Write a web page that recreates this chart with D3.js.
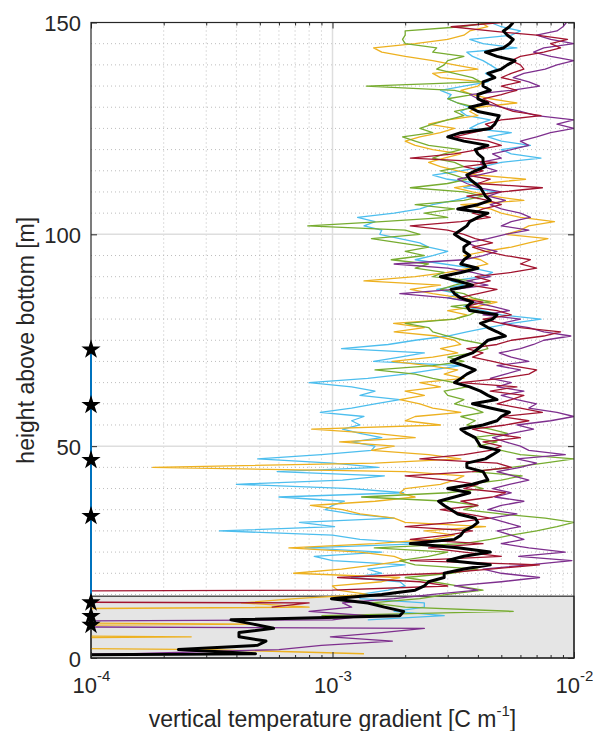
<!DOCTYPE html>
<meta charset="utf-8">
<style>
body { margin: 0; background: #fff; }
text { font-family: "Liberation Sans", Arial, Helvetica, sans-serif; fill: #262626; }
.grid-major line { stroke: #dedede; stroke-width: 1.5px; }
.grid-minor line { stroke: #bdbdbd; stroke-width: 1px; stroke-dasharray: 1,3; }
.profile { fill: none; stroke-width: 1.3px; stroke-linejoin: round; }
.mean { fill: none; stroke: #000; stroke-width: 3px; stroke-linejoin: round; }
.axis path { display: none; }
.axis line { stroke: #262626; }
</style>
<svg width="593" height="731"></svg>
<script src="https://cdn.jsdelivr.net/npm/d3@7"></script>
<script>

// heights above bottom [m], one value per metre
var heights = d3.range(0, 151);

// vertical temperature gradient, in units of 1e-3 C/m (null = no data)
var blueGrad = [null, null, null, null, null, null, null, null, null,
  1.4, 2.9, 1.8, 2.4, 2.4, 1.3,
  1.3, 1.7, 2.0, 1.9, 1.2, 1.6, 1.4, 2.0, 1.0, 0.84,
  1.6, 0.77, 2.4, 1.3, 1.0, 0.34, 1.02, 0.73, 1.8, 1.2, 0.93, 1.0, 1.12, 0.6, 1.97, 1.2, 0.4, 1.1, 1.64, 0.59, 1.55, 1.0, 0.49, 0.9, 1.45,
  1.5, 1.2, 1.6, 1.3, 1.1, 1.3, 1.2, 1.35, 0.89, 1.2, 1.5, 1.9, 1.3, 1.5, 1.2, 0.8, 1.4, 2.0, 2.6, 3.4, 1.48, 1.9, 2.4, 1.09, 1.7, 2.2,
  3.0, 3.6, 4.4, 5.5, 7.3, 5.0, 4.2, 3.5, 3.9, 3.0, 3.3, 2.7, 3.5, 3.1, 4.2, 4.6, 3.8, 2.9, 2.2, 2.6, 3.0, 2.5, 2.3, 1.9, 1.57,
  1.6, 1.35, 1.5, 1.27, 1.8, 2.3, 2.6, 3.2, 3.8, 4.8, 3.5, 4.1, 3.0, 2.6, 3.4, 4.2, 5.0, 7.3, 5.5, 5.0, 6.6, 5.0, 4.4, 5.5, 3.7,
  4.0, 4.5, 3.6, 3.4, 3.7, 3.3, 3.0, 3.1, 2.8, 3.5, 4.4, 4.6, 4.3, 4.8, 4.5, 4.2, 3.8, 3.6, 5.8, 4.2, 3.7, 5.5, 6.0, 5.0, 4.5];

var orangeGrad = [null, 1.35, 0.31, 0.001, 0.001, 0.26, 0.001, 0.001, 0.48, 0.001,
  0.001, 0.001, 0.8, 0.42, 0.7,
  1.4, 1.05, 1.0, 1.6, 1.9, 0.69, 1.09, 1.5, 2.0, 1.8,
  1.3, 0.66, 1.5, 2.6, 3.2, 2.4, 4.3, 2.0, 1.8, 1.3, 1.1, 0.81, 1.5, 2.2, 1.9, 2.0, 2.8, 3.2, 3.5, 2.0, 0.18, 1.5, 3.4, 2.5, 1.45,
  1.8, 1.07, 2.2, 1.5, 0.82, 2.8, 2.0, 2.2, 3.4, 2.6, 2.3, 1.9, 2.4, 2.0, 2.8, 2.3, 3.5, 2.9, 3.3, 2.5, 1.77, 2.6, 3.3, 2.8, 3.4, 3.2,
  2.7, 1.8, 2.4, 1.79, 3.2, 3.6, 3.0, 4.0, 4.8, 3.4, 2.6, 2.1, 2.8, 1.35, 2.2, 3.0, 3.7, 4.4, 4.1, 3.5, 4.3, 5.5, 6.5, 7.8, 5.2,
  6.0, 6.5, 8.3, 6.0, 5.0, 4.5, 3.4, 6.2, 4.6, 3.8, 3.2, 4.2, 6.3, 4.0, 3.3, 2.8, 2.5, 2.9, 3.4, 2.6, 2.2, 2.0, 2.3, 2.8, 3.2,
  2.5, 3.0, 4.0, 3.7, 4.0, 5.8, 4.5, 3.8, 3.4, 4.0, 4.2, 2.8, 2.6, 4.0, 3.2, 2.6, 2.0, 1.6, 1.48, 2.2, 3.0, 3.5, 3.7, 4.4, 4.1];

var greenGrad = [null, null, null, null, null, null, null, null, null, null,
  0.9, 5.6, 2.0, 1.45, 2.3,
  3.0, 4.2, 3.3, 2.6, 2.0, 3.1, 4.0, 2.2, 1.9, 2.5,
  3.0, 1.49, 3.5, 4.5, 5.5, 7.0, 8.5, 10.0, 7.6, 5.0, 3.5, 4.0, 3.0, 1.32, 3.0, 4.2, 3.6, 5.0, 6.1, 3.8, 5.5, 7.5, 10.0, 6.0, 5.0,
  4.0, 4.8, 3.8, 5.3, 4.5, 3.6, 3.9, 3.4, 4.2, 3.8, 3.2, 3.5, 3.0, 2.9, 3.6, 3.2, 2.6, 2.2, 1.5, 2.6, 3.5, 3.0, 3.8, 4.4, 4.3, 3.5,
  3.0, 2.6, 2.5, 2.0, 3.2, 3.7, 4.0, 3.1, 4.5, 3.8, 3.5, 2.8, 3.2, 3.8, 2.6, 2.9, 2.2, 2.5, 1.75, 2.4, 2.0, 2.5, 1.9, 1.45, 2.3,
  2.0, 0.79, 1.6, 3.0, 2.4, 3.2, 2.2, 3.5, 4.2, 3.5, 2.1, 3.0, 3.6, 3.2, 2.8, 3.5, 3.2, 2.6, 2.9, 3.4, 2.5, 2.2, 1.95, 2.6, 2.3,
  2.6, 3.0, 3.5, 3.2, 3.9, 3.3, 3.0, 3.8, 3.2, 1.38, 4.1, 3.8, 3.2, 2.7, 2.9, 3.0, 3.5, 2.6, 2.7, 2.0, 1.95, 2.0, 2.0, 3.4, 4.5];

var redGrad = [null, null, null, null, null, null, null, null, null, null, null, null,
  0.56, 0.8, 0.000001, 0.000001,
  1.0, 3.0, 2.3, 1.05, 2.8, 4.5, 7.2, 2.1, 5.0,
  3.5, 2.5, 4.2, 2.1, 3.0, 3.8, 2.0, 3.2, 4.5, 3.6, 2.8, 4.0, 3.4, 4.6, 5.2, 3.5, 4.0, 3.0, 2.0, 3.8, 5.5, 4.8, 2.3, 3.5, 4.5,
  5.0, 4.2, 6.0, 4.5, 3.8, 5.2, 6.5, 5.0, 7.4, 6.0, 4.8, 5.5, 6.2, 4.5, 5.8, 3.4, 5.0, 6.5, 7.0, 5.5, 4.6, 3.8, 4.2, 3.6, 4.8, 5.5,
  7.5, 8.8, 6.0, 5.0, 4.2, 5.5, 4.8, 3.6, 4.2, 3.3, 4.0, 4.8, 3.7, 4.5, 3.9, 5.5, 7.0, 6.0, 6.6, 5.2, 4.3, 3.8, 4.6, 3.9, 3.5,
  3.0, 2.1, 3.4, 4.5, 3.8, 4.2, 5.0, 4.4, 3.6, 5.0, 7.4, 4.0, 4.5, 3.6, 4.2, 3.5, 4.8, 2.1, 3.2, 4.0, 5.0, 4.4, 3.2, 3.8, 4.6,
  4.3, 5.0, 7.3, 5.6, 5.0, 4.6, 4.2, 5.0, 5.8, 5.0, 6.0, 5.0, 5.5, 6.2, 6.0, 5.5, 6.0, 7.5, 8.8, 8.0, 9.4, 7.0, 4.5, 3.1, 5.0];

var purpleGrad = [0.001, 0.15, 0.6, 0.9, 1.77, 0.98, 1.6, 2.4, 0.0001, 1.0, 1.4, 0.8, 1.2, 1.1, 1.8,
  2.6, 4.0, 3.2, 5.0, 7.2, 5.0, 4.2, 6.5, 9.8, 5.9,
  9.2, 6.5, 5.0, 6.2, 5.5, 4.8, 6.0, 5.2, 4.5, 5.8, 4.4, 5.0, 6.2, 4.7, 5.5, 4.6, 5.4, 6.5, 5.6, 4.8, 6.0, 7.0, 5.8, 9.2, 6.5,
  6.0, 5.2, 4.6, 5.5, 6.8, 5.8, 8.0, 10.0, 8.5, 6.5, 7.0, 5.8, 5.0, 6.2, 4.8, 5.5, 4.5, 5.2, 6.0, 4.8, 6.5, 5.5, 4.9, 6.0, 6.8, 7.5,
  9.7, 7.5, 6.5, 5.0, 6.0, 4.2, 5.4, 4.6, 3.8, 3.0, 1.9, 3.2, 4.4, 3.6, 4.5, 3.8, 3.0, 1.8, 3.5, 4.2, 4.8, 4.0, 3.6, 4.4, 5.2,
  6.5, 5.0, 5.5, 6.6, 6.0, 5.0, 4.5, 5.2, 4.4, 5.0, 4.0, 3.6, 3.3, 4.0, 4.8, 4.2, 4.1, 5.0, 4.6, 5.5, 6.5, 6.0, 7.0, 8.0, 10.0,
  8.5, 10.0, 7.0, 6.0, 5.0, 4.2, 4.0, 3.7, 5.5, 7.2, 6.5, 5.6, 6.2, 7.6, 8.5, 10.0, 8.0, 6.8, 7.5, 10.0, 8.0, 7.0, 8.5, 9.0, 9.3];

var meanGrad = [0.001, 0.48, 0.23, 0.49, 0.53, 0.41, 0.41, 0.57, 0.47, 0.38,
  1.9, 1.97, 1.64, 1.4, 0.99, 1.6, 2.2, 2.4, 2.5, 2.9,
  2.9, 3.5, 4.5, 3.0, 3.5, 4.5, 3.3, 2.1, 3.2, 3.4,
  3.5, 3.8, 4.0, 3.9, 3.3, 3.1, 2.9, 2.75, 3.2, 3.7,
  3.0, 3.8, 4.4, 4.3, 4.2, 3.6, 3.6, 4.3, 4.6, 4.9,
  4.1, 4.0, 3.9, 3.6, 3.4, 4.2, 4.8, 5.0, 5.4, 4.5,
  3.8, 4.8, 4.4, 4.1, 3.7, 3.2, 3.4, 3.6, 3.9, 3.5,
  3.1, 3.4, 3.8, 4.0, 4.2, 4.4, 5.2, 4.8, 4.4, 4.1,
  4.6, 4.8, 3.7, 3.6, 3.8, 3.4, 3.2, 3.1, 3.8, 3.3,
  2.8, 3.4, 4.0, 3.4, 3.5, 3.7, 3.5, 3.5, 3.7, 3.4,
  3.2, 3.4, 3.6, 3.7, 4.0, 4.4, 3.3, 4.0, 4.5, 4.3,
  4.2, 4.1, 3.9, 3.7, 3.6, 3.9, 4.3, 4.2, 4.2, 4.0,
  3.9, 4.4, 3.5, 3.0, 3.4, 4.5, 4.7, 4.8, 4.9, 4.0,
  3.7, 4.4, 4.0, 4.0, 4.5, 4.2, 4.2, 4.7, 4.4, 5.0,
  5.3, 5.7, 4.8, 4.3, 5.1, 5.4, 5.6, 5.3, 5.1, 5.4,
  5.6];

// instrument depths (stars) and the shaded bottom layer
var sensorHeights = [7.8, 9.9, 13.1, 33.5, 46.7, 59.7, 72.8];
var shadeTop = 14.6;

var xTicks = [1e-4, 1e-3, 1e-2];
var yTicks = [0, 50, 100, 150];

var svg = d3.select("svg"),
    margin = {top: 22.5, right: 19, bottom: 73, left: 91},
    width = +svg.attr("width") - margin.left - margin.right,
    height = +svg.attr("height") - margin.top - margin.bottom;

var x = d3.scaleLog().domain([1e-4, 1e-2]).range([0, width]);
var y = d3.scaleLinear().domain([0, 150]).range([height, 0]);

var g = svg.append("g").attr("transform", "translate(" + margin.left + "," + margin.top + ")");

g.append("defs").append("clipPath").attr("id", "clip")
  .append("rect").attr("width", width).attr("height", height);

// minor / major grid
var xMinor = [];
[1e-4, 1e-3].forEach(function(d) { for (var k = 2; k <= 9; k++) xMinor.push(d * k); });
var yMinor = d3.range(5, 150, 5).filter(function(d) { return d % 50 !== 0; });

var gm = g.append("g").attr("class", "grid-minor");
gm.selectAll(".vx").data(xMinor).enter().append("line")
  .attr("x1", function(d) { return x(d); }).attr("x2", function(d) { return x(d); })
  .attr("y1", 0).attr("y2", height);
gm.selectAll(".hy").data(yMinor).enter().append("line")
  .attr("x1", 0).attr("x2", width)
  .attr("y1", function(d) { return y(d); }).attr("y2", function(d) { return y(d); });

var gM = g.append("g").attr("class", "grid-major");
gM.selectAll(".vx").data([1e-3]).enter().append("line")
  .attr("x1", function(d) { return x(d); }).attr("x2", function(d) { return x(d); })
  .attr("y1", 0).attr("y2", height);
gM.selectAll(".hy").data([50, 100]).enter().append("line")
  .attr("x1", 0).attr("x2", width)
  .attr("y1", function(d) { return y(d); }).attr("y2", function(d) { return y(d); });

// shaded bottom layer
g.append("rect")
  .attr("x", 0).attr("y", y(shadeTop))
  .attr("width", width).attr("height", y(0) - y(shadeTop))
  .attr("fill", "#e5e5e5").attr("stroke", "#000").attr("stroke-width", 1);

// profiles
var series = [
  {vals: blueGrad, color: "#4DBEEE"},
  {vals: orangeGrad, color: "#EDB120"},
  {vals: greenGrad, color: "#77AC30"},
  {vals: purpleGrad, color: "#7E2F8E"},
  {vals: redGrad, color: "#A2142F"}
];

var line = d3.line()
  .defined(function(d) { return d[1] != null; })
  .x(function(d) { return x(d[1] * 1e-3); })
  .y(function(d) { return y(d[0]); });

var plot = g.append("g").attr("clip-path", "url(#clip)");

series.forEach(function(s) {
  plot.append("path")
    .datum(heights.map(function(h, i) { return [h, s.vals[i]]; }))
    .attr("class", "profile")
    .attr("stroke", s.color)
    .attr("d", line);
});

plot.append("path")
  .datum(heights.map(function(h, i) { return [h, meanGrad[i]]; }))
  .attr("class", "mean")
  .attr("d", line);

// axes (ticks pointing inward)
var axB = g.append("g").attr("class", "axis").attr("transform", "translate(0," + height + ")")
  .call(d3.axisBottom(x).tickValues(xTicks).tickSize(-6).tickSizeOuter(0).tickFormat(""));
g.append("g").attr("class", "axis").attr("transform", "translate(0," + height + ")")
  .call(d3.axisBottom(x).tickValues(xMinor).tickSize(-3).tickSizeOuter(0).tickFormat(""));
g.append("g").attr("class", "axis")
  .call(d3.axisTop(x).tickValues(xTicks).tickSize(-6).tickSizeOuter(0).tickFormat(""));
g.append("g").attr("class", "axis")
  .call(d3.axisTop(x).tickValues(xMinor).tickSize(-3).tickSizeOuter(0).tickFormat(""));
var axL = g.append("g").attr("class", "axis")
  .call(d3.axisLeft(y).tickValues(yTicks).tickSize(-6).tickSizeOuter(0).tickFormat(""));
g.append("g").attr("class", "axis").attr("transform", "translate(" + width + ",0)")
  .call(d3.axisRight(y).tickValues(yTicks).tickSize(-6).tickSizeOuter(0).tickFormat(""));

// tick labels
axB.selectAll(".tick").append("text")
  .attr("y", 35).attr("text-anchor", "middle").style("font-size", "22px")
  .each(function(d) {
    var t = d3.select(this);
    t.append("tspan").text("10");
    t.append("tspan").attr("dy", -12).style("font-size", "15px").text(Math.round(Math.log10(d)));
  });

axL.selectAll(".tick").append("text")
  .attr("x", -10).attr("dy", 8).attr("text-anchor", "end").style("font-size", "22px")
  .text(function(d) { return d; });

// frame
g.append("rect").attr("width", width).attr("height", height)
  .attr("fill", "none").attr("stroke", "#262626").attr("stroke-width", 1.2);

// instrument line and stars
g.append("line")
  .attr("x1", x(1e-4)).attr("x2", x(1e-4))
  .attr("y1", y(shadeTop)).attr("y2", y(d3.max(sensorHeights)))
  .attr("stroke", "#0072BD").attr("stroke-width", 2);

g.selectAll(".star").data(sensorHeights).enter().append("path")
  .attr("class", "star")
  .attr("transform", function(d) { return "translate(" + x(1e-4) + "," + y(d) + ")"; })
  .attr("d", d3.symbol(d3.symbolStar, 115))
  .attr("fill", "#000");

// axis titles
var xl = g.append("text")
  .attr("x", width / 2).attr("y", height + 69)
  .attr("text-anchor", "middle").style("font-size", "23px");
xl.append("tspan").text("vertical temperature gradient [C m");
xl.append("tspan").attr("dy", -11).style("font-size", "15px").text("-1");
xl.append("tspan").attr("dy", 11).text("]");

g.append("text")
  .attr("transform", "translate(" + (34 - margin.left) + "," + (height / 2) + ") rotate(-90)")
  .attr("text-anchor", "middle").style("font-size", "23px")
  .text("height above bottom [m]");

</script>
